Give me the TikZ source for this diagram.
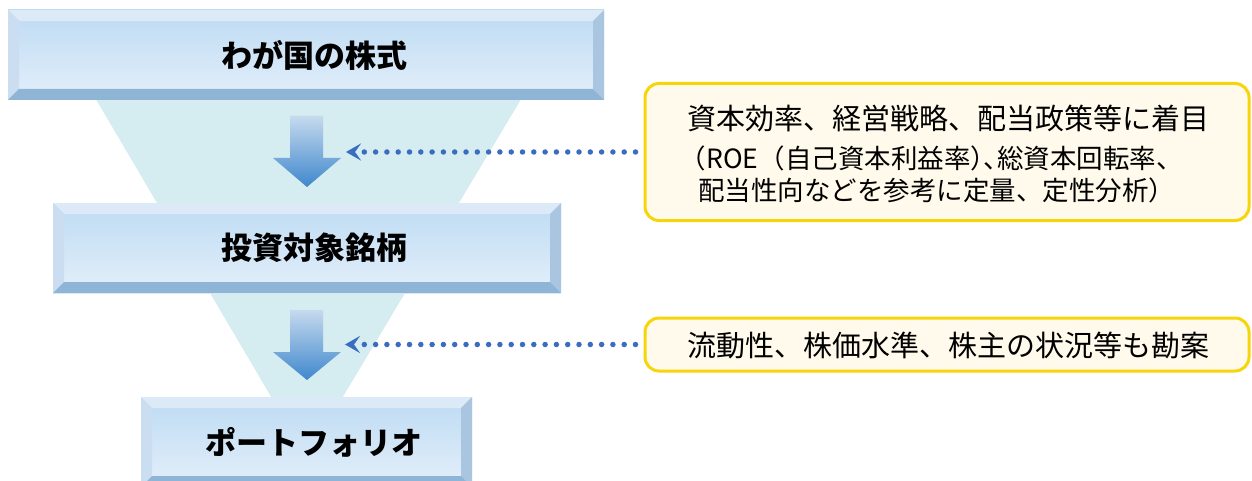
\documentclass[tikz,border=0pt]{standalone}
\usepackage{fontspec}
\newfontfamily\jp{Noto Sans CJK JP}
\usetikzlibrary{arrows.meta}
\definecolor{funnelc}{HTML}{D5ECF0}
\definecolor{facetop}{HTML}{BDDBF3}
\definecolor{facebot}{HTML}{E4EFFA}
\definecolor{bvtopc}{HTML}{DCEAF8}
\definecolor{bvleftc}{HTML}{CBDDF0}
\definecolor{bvrightc}{HTML}{A9C5DF}
\definecolor{bvbotc}{HTML}{8FB5D6}
\definecolor{arrtop}{HTML}{C6DAEE}
\definecolor{arrbot}{HTML}{3F87CD}
\definecolor{dotc}{HTML}{3A6CC0}
\definecolor{yel}{HTML}{F6D50B}
\definecolor{cream}{HTML}{FFFAEB}
\newcommand\bevelbox[1]{%
 \fill[bvtopc] (#1.north west) -- (#1.north east) -- ([shift={(-11,11)}]#1.north east) -- ([shift={(11,11)}]#1.north west) -- cycle;
 \fill[bvleftc] (#1.north west) -- ([shift={(11,11)}]#1.north west) -- ([shift={(11,-11)}]#1.south west) -- (#1.south west) -- cycle;
 \fill[bvrightc] (#1.north east) -- ([shift={(-11,11)}]#1.north east) -- ([shift={(-11,-11)}]#1.south east) -- (#1.south east) -- cycle;
 \fill[bvbotc] (#1.south west) -- ([shift={(11,-11)}]#1.south west) -- ([shift={(-11,-11)}]#1.south east) -- (#1.south east) -- cycle;}
\newcommand\halfp[1]{{\addfontfeatures{RawFeature=+halt}#1}}
\tikzset{
 stagebox/.style={inner sep=0, outer sep=0, top color=facetop, bottom color=facebot, minimum height=90},
 stagetext/.style={font=\jp\bfseries\fontsize{31}{34}\selectfont, text=black, inner sep=0},
 callout/.style={draw=yel, line width=3pt, fill=cream, rounded corners=14pt, inner sep=0, minimum width=604},
 calltext/.style={font=\jp\fontsize{#1}{#1}\selectfont, text=black, inner sep=0},
 dotarrow/.style={dotc, line width=5.5pt, line cap=round, dash pattern=on 0pt off 11.3pt,
   -{Stealth[length=15pt, width=17pt, inset=6pt]}, shorten <=8pt},
 bigarrow/.style={top color=arrtop, bottom color=arrbot, draw=none}
}
\begin{document}
\begin{tikzpicture}[x=1pt,y=-1pt]
\useasboundingbox (0,0) rectangle (1252,481);
% funnel
\fill[funnelc] (94,96) -- (523,96) -- (341,400) -- (273,400) -- cycle;
% stage boxes
\node[stagebox, minimum width=596] (b1) at (306,55) {};
\bevelbox{b1}
\node[stagebox, minimum width=508] (b2) at (307,248) {};
\bevelbox{b2}
\node[stagebox, minimum width=331] (b3) at (306.5,442) {};
\bevelbox{b3}
\node[stagetext] (t1) at (314,55) {わが国の株式};
\node[stagetext] (t2) at (314,248) {投資対象銘柄};
\node[stagetext] (t3) at (314,442) {ポートフォリオ};
% big arrows
\shade[bigarrow] (290,116) -- (323,116) -- (323,158) -- (341,158) -- (307,187) -- (273,158) -- (290,158) -- cycle;
\shade[bigarrow] (290,310) -- (323,310) -- (323,352) -- (341,352) -- (307,380) -- (273,352) -- (290,352) -- cycle;
% callouts
\node[callout, minimum height=137] (c1) at (947,152) {};
\node[calltext=29] (l1) at (948,118) {資本効率、経営戦略、配当政策等に着目};
\node[calltext=26.5, anchor=west] (l2) at (693,158) {\halfp{（}ROE（自己資本利益率\halfp{）、}総資本回転率、};
\node[calltext=26.5, anchor=west] (l3) at (698,190) {配当性向などを参考に定量、定性分析）};
\node[callout, minimum height=53] (c2) at (947,344.5) {};
\node[calltext=29] (l4) at (948,345) {流動性、株価水準、株主の状況等も勘案};
% dotted arrows
\coordinate (p1) at (346,152);
\coordinate (p2) at (345,344.5);
\draw[dotarrow] (c1.west) -- (p1);
\draw[dotarrow] (c2.west) -- (p2);
\end{tikzpicture}
\end{document}
